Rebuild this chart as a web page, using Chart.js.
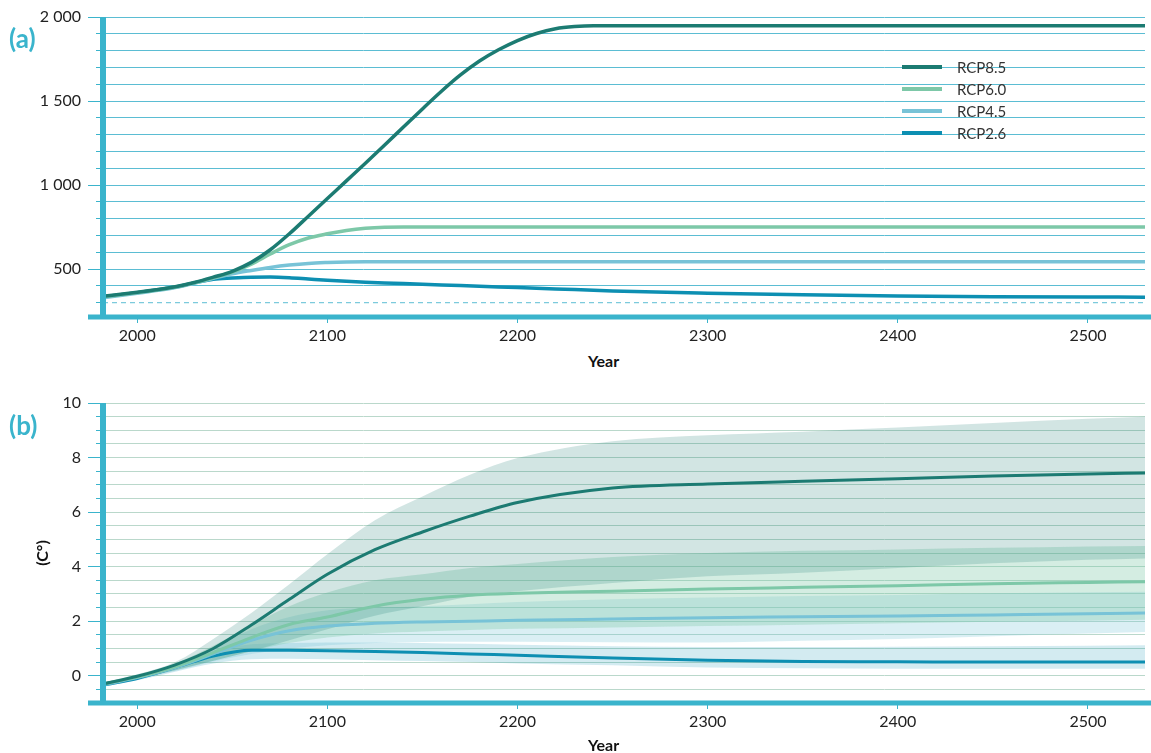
<!DOCTYPE html>
<html>
<head>
<meta charset="utf-8">
<script src="https://cdn.jsdelivr.net/npm/chart.js@4.4.1/dist/chart.umd.min.js"></script>
<style>
  body { margin: 0; width: 1151px; height: 753px; overflow: hidden; background: #fff; position: relative; font-family: Lato, sans-serif; }
  canvas { position: absolute; left: 0; }
  #chartA { top: 0; }
  #chartB { top: 380px; }
  .tag { position: absolute; left: 9px; font-weight: bold; font-size: 26px; line-height: 26px; color: #3ab4cc; }
  .axisTitle { position: absolute; font-weight: bold; font-size: 16px; line-height: 16px; color: #111; }
  #legend { position: absolute; left: 902px; top: 56px; }
  .row { position: relative; height: 22px; }
  .swatch { position: absolute; left: 0; top: 9px; width: 40px; height: 4px; }
  .label { position: absolute; left: 55px; top: 3px; font-size: 15px; line-height: 16px; color: #333; white-space: nowrap; }
</style>
</head>
<body>
<canvas id="chartA" width="1151" height="345"></canvas>
<canvas id="chartB" width="1151" height="373"></canvas>
<div class="tag" style="top:25px">(a)</div>
<div class="tag" style="top:412px">(b)</div>
<div class="axisTitle" style="left:588px; top:353px">Year</div>
<div class="axisTitle" style="left:588px; top:737px">Year</div>
<div class="axisTitle" style="left:42px; top:553px; transform: translate(-50%, -50%) rotate(-90deg); white-space:nowrap">(C°)</div>
<div id="legend"></div>
<script>
// Data
const seriesNames = ["RCP8.5", "RCP6.0", "RCP4.5", "RCP2.6"];
const seriesColors = ["#1c7b72", "#7dc8a8", "#78c3d7", "#0d8fb2"];
const bandColors = ["rgba(28,123,114,0.2)", "rgba(125,200,168,0.33)", "rgba(120,195,215,0.27)", "rgba(13,143,178,0.18)"];

// (a) concentration
const yearsA = [1982, 2000, 2010, 2020, 2030, 2040, 2050, 2060, 2070, 2080, 2090, 2100, 2110, 2120, 2130, 2140, 2150,
                2160, 2170, 2180, 2190, 2200, 2210, 2220, 2230, 2240, 2250, 2300, 2350, 2400, 2450, 2500, 2530];
const rcp85Ppm = [338, 362, 377, 395, 420, 452, 487, 540, 615, 710, 815, 920, 1025, 1130, 1237, 1345, 1453,
                  1558, 1655, 1738, 1805, 1860, 1902, 1930, 1943, 1948, 1948, 1948, 1948, 1948, 1948, 1948, 1948];
const rcp60Ppm = [335, 360, 375, 393, 418, 448, 482, 530, 590, 645, 685, 710, 730, 743, 749, 750, 750,
                  750, 750, 750, 750, 750, 750, 750, 750, 750, 750, 750, 750, 750, 750, 750, 750];
const rcp45Ppm = [330, 356, 372, 391, 416, 445, 472, 492, 510, 524, 534, 539, 542, 543, 543, 543, 543,
                  543, 543, 543, 543, 543, 543, 543, 543, 543, 543, 543, 543, 543, 543, 543, 543];
const rcp26Ppm = [335, 360, 376, 393, 418, 440, 447, 452, 453, 449, 441, 433, 427, 422, 418, 414, 410,
                  406, 402, 398, 394, 390, 386, 382, 378, 374, 370, 357, 347, 340, 336, 334, 333];
const baselineYears = [1982, 2530];
const baselinePpm = [300, 300];

// (b) temperature
const yearsB = [1982, 2000, 2020, 2040, 2060, 2080, 2100, 2125, 2150, 2175, 2200, 2250, 2300, 2350, 2400, 2450, 2500, 2530];
const rcp85Temp = [-0.3, -0.02, 0.4, 1.0, 1.86, 2.8, 3.72, 4.62, 5.27, 5.85, 6.35, 6.88, 7.03, 7.13, 7.22, 7.32, 7.4, 7.43];
const rcp85High = [-0.25, 0.05, 0.5, 1.35, 2.3, 3.35, 4.45, 5.7, 6.57, 7.37, 7.98, 8.6, 8.82, 8.95, 9.1, 9.27, 9.42, 9.5];
const rcp85Low = [-0.35, -0.1, 0.2, 0.55, 0.9, 1.3, 1.7, 2.2, 2.55, 2.9, 3.1, 3.4, 3.65, 3.78, 3.95, 4.12, 4.25, 4.3];
const rcp60Temp = [-0.3, -0.05, 0.33, 0.85, 1.4, 1.88, 2.15, 2.55, 2.8, 2.95, 3.02, 3.1, 3.18, 3.24, 3.3, 3.37, 3.42, 3.45];
const rcp60High = [-0.25, 0.02, 0.45, 1.1, 1.85, 2.55, 3.05, 3.5, 3.72, 3.95, 4.1, 4.35, 4.5, 4.58, 4.63, 4.69, 4.74, 4.76];
const rcp60Low = [-0.35, -0.12, 0.2, 0.55, 0.9, 1.2, 1.4, 1.55, 1.62, 1.68, 1.72, 1.77, 1.82, 1.87, 1.92, 1.98, 2.02, 2.05];
const rcp45Temp = [-0.33, -0.07, 0.3, 0.8, 1.3, 1.65, 1.82, 1.92, 1.97, 2.0, 2.03, 2.08, 2.13, 2.16, 2.19, 2.23, 2.27, 2.3];
const rcp45High = [-0.28, 0.0, 0.42, 1.0, 1.7, 2.15, 2.4, 2.5, 2.55, 2.62, 2.7, 2.8, 2.87, 2.92, 2.96, 3.02, 3.06, 3.08];
const rcp45Low = [-0.38, -0.14, 0.17, 0.52, 0.8, 1.0, 1.12, 1.2, 1.24, 1.25, 1.25, 1.23, 1.22, 1.28, 1.35, 1.45, 1.55, 1.6];
const rcp26Temp = [-0.35, -0.1, 0.3, 0.72, 0.93, 0.93, 0.92, 0.89, 0.85, 0.8, 0.75, 0.65, 0.57, 0.52, 0.51, 0.5, 0.5, 0.5];
const rcp26High = [-0.3, -0.02, 0.42, 0.9, 1.15, 1.2, 1.22, 1.22, 1.2, 1.17, 1.14, 1.08, 1.05, 1.05, 1.06, 1.08, 1.1, 1.12];
const rcp26Low = [-0.4, -0.17, 0.15, 0.45, 0.6, 0.62, 0.6, 0.57, 0.54, 0.5, 0.45, 0.38, 0.3, 0.27, 0.26, 0.26, 0.26, 0.26];

// Ticks
const xTicks = [2000, 2100, 2200, 2300, 2400, 2500];
const yTicksA = [300, 400, 500, 600, 700, 800, 900, 1000, 1100, 1200, 1300, 1400, 1500, 1600, 1700, 1800, 1900, 2000];
const yLabelValuesA = [500, 1000, 1500, 2000];
const yLabelsA = ["500", "1 000", "1 500", "2 000"];
const yTicksB = [-0.5, 0, 0.5, 1, 1.5, 2, 2.5, 3, 3.5, 4, 4.5, 5, 5.5, 6, 6.5, 7, 7.5, 8, 8.5, 9, 9.5, 10];
const yLabelValuesB = [0, 2, 4, 6, 8, 10];
const yLabelsB = ["0", "2", "4", "6", "8", "10"];

const cyan = "#3ab4cc";
Chart.defaults.font.family = "Lato";
Chart.defaults.animation = false;

const toPoints = (xs, ys) => xs.map((x, i) => ({ x: x, y: ys[i] }));

// thick axis lines drawn over the data
const axisFrame = {
  id: "axisFrame",
  afterDatasetsDraw(chart) {
    const { ctx, chartArea } = chart;
    ctx.save();
    ctx.strokeStyle = cyan;
    ctx.lineWidth = 6;
    ctx.beginPath();
    ctx.moveTo(chartArea.left, chartArea.top);
    ctx.lineTo(chartArea.left, chartArea.bottom);
    ctx.stroke();
    ctx.lineWidth = 5;
    ctx.beginPath();
    ctx.moveTo(chartArea.left - 15, chartArea.bottom);
    ctx.lineTo(chart.width, chartArea.bottom);
    ctx.stroke();
    ctx.restore();
  }
};

function xScale(height) {
  return {
    type: "linear", min: 1982, max: 2530,
    afterBuildTicks: (scale) => { scale.ticks = xTicks.map(v => ({ value: v })); },
    afterFit: (scale) => { scale.height = height; },
    grid: { drawOnChartArea: false, drawTicks: true, tickLength: 6, tickColor: cyan, tickWidth: 1 },
    border: { display: false },
    ticks: { padding: 3, color: "#222", font: { size: 16 }, callback: (v) => String(v) }
  };
}

function yScale(min, max, tickValues, labelValues, labels, gridColor, skipValue) {
  return {
    type: "linear", min: min, max: max,
    afterBuildTicks: (scale) => { scale.ticks = tickValues.map(v => ({ value: v })); },
    afterFit: (scale) => { scale.width = 103; },
    grid: {
      lineWidth: 1,
      tickLength: 15,
      tickWidth: 1,
      tickColor: cyan,
      color: (ctx) => (ctx.tick && ctx.tick.value === skipValue) ? "rgba(0,0,0,0)" : gridColor,
      tickBorderDash: (ctx) => (ctx.tick && labelValues.includes(ctx.tick.value)) ? [] : [0, 8, 7, 0]
    },
    border: { display: false },
    ticks: {
      padding: 7, color: "#222", font: { size: 16 }, autoSkip: false,
      callback: (v) => { const i = labelValues.indexOf(v); return i >= 0 ? labels[i] : ""; }
    }
  };
}

function lineSet(label, xs, ys, color, width) {
  return { label: label, data: toPoints(xs, ys), borderColor: color, borderWidth: width,
           pointRadius: 0, fill: false, cubicInterpolationMode: "monotone" };
}

function bandSet(xs, ys, color, fillTarget) {
  return { label: "", data: toPoints(xs, ys), borderWidth: 0, borderColor: "rgba(0,0,0,0)",
           backgroundColor: color, pointRadius: 0, fill: fillTarget, cubicInterpolationMode: "monotone" };
}

const ppmSeries = [rcp85Ppm, rcp60Ppm, rcp45Ppm, rcp26Ppm];
const datasetsA = ppmSeries.map((s, i) => lineSet(seriesNames[i], yearsA, s, seriesColors[i], 3.5));
datasetsA.push({ label: "", data: toPoints(baselineYears, baselinePpm), borderColor: "#5bbdd3",
                 borderWidth: 1, borderDash: [5, 4], pointRadius: 0, fill: false });

new Chart(document.getElementById("chartA"), {
  type: "line",
  data: { datasets: datasetsA },
  options: {
    responsive: false,
    layout: { padding: { left: 0, right: 6, top: 17, bottom: 0 } },
    plugins: { legend: { display: false }, tooltip: { enabled: false } },
    scales: {
      x: xScale(28),
      y: yScale(215, 2000, yTicksA, yLabelValuesA, yLabelsA, "#5bbdd3", 300)
    }
  },
  plugins: [axisFrame]
});

const tempSeries = [rcp85Temp, rcp60Temp, rcp45Temp, rcp26Temp];
const highSeries = [rcp85High, rcp60High, rcp45High, rcp26High];
const lowSeries = [rcp85Low, rcp60Low, rcp45Low, rcp26Low];
const datasetsB = tempSeries.map((s, i) => lineSet(seriesNames[i], yearsB, s, seriesColors[i], 3));
for (let i = 0; i < 4; i++) {
  datasetsB.push(bandSet(yearsB, highSeries[i], bandColors[i], "+1"));
  datasetsB.push(bandSet(yearsB, lowSeries[i], bandColors[i], false));
}

new Chart(document.getElementById("chartB"), {
  type: "line",
  data: { datasets: datasetsB },
  options: {
    responsive: false,
    layout: { padding: { left: 0, right: 6, top: 23, bottom: 0 } },
    plugins: { legend: { display: false }, tooltip: { enabled: false } },
    scales: {
      x: xScale(50),
      y: yScale(-1, 10, yTicksB, yLabelValuesB, yLabelsB, "#bad8cb", null)
    }
  },
  plugins: [axisFrame]
});

// Legend
const legend = document.getElementById("legend");
seriesNames.forEach((name, i) => {
  const row = document.createElement("div");
  row.className = "row";
  row.innerHTML = `<div class="swatch" style="background:${seriesColors[i]}"></div><div class="label">${name}</div>`;
  legend.append(row);
});
</script>
</body>
</html>
